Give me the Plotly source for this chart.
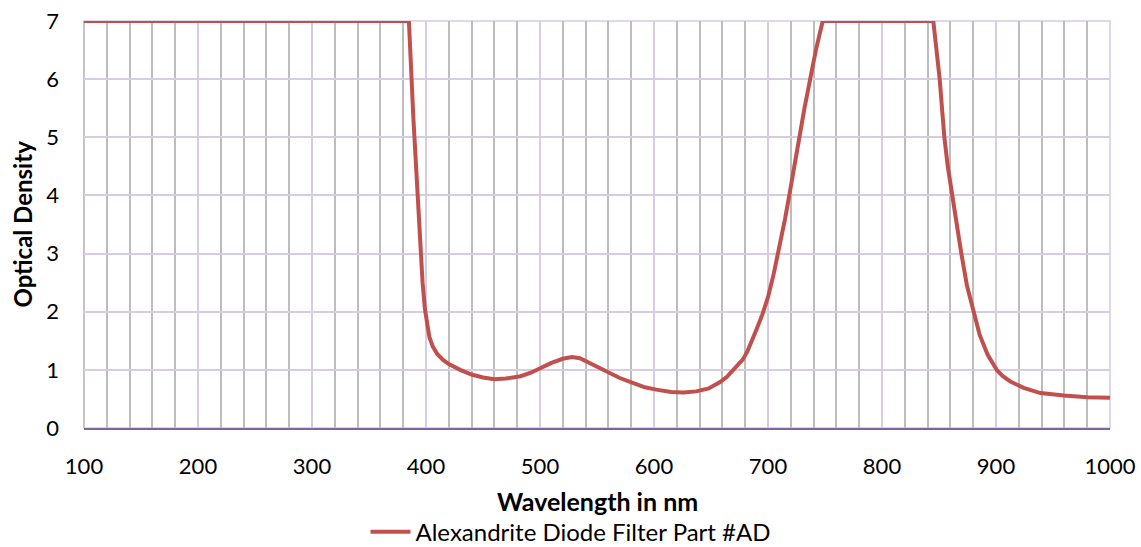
import plotly.graph_objects as go

wavelength = [100, 200, 300, 385, 389, 392, 395, 397, 399, 401, 403, 406, 410, 415, 420, 430,
              440, 450, 460, 470, 483, 492, 500, 510, 520, 528, 535, 545, 558, 570, 582,
              592, 602, 615, 626, 637, 648, 658, 664, 670, 675, 678, 682, 686, 690, 695,
              700, 705, 710, 715, 719, 723, 727.5, 732, 737, 742, 748, 800, 845, 850.6,
              854.7, 857.7, 861.5, 865.5, 869.6, 874.5, 880, 885.7, 892.7, 897, 901, 906,
              912.6, 924.3, 939, 959.4, 980, 1000]
optical_density = [7, 7, 7, 7, 5.3, 4.2, 3.15, 2.5, 2.05, 1.75, 1.56, 1.4, 1.27, 1.17, 1.1, 1.0,
                   0.92, 0.87, 0.84, 0.85, 0.89, 0.95, 1.03, 1.12, 1.19, 1.22, 1.2, 1.1, 0.97, 0.86, 0.77,
                   0.7, 0.66, 0.62, 0.61, 0.63, 0.68, 0.79, 0.88, 1.0, 1.1, 1.18, 1.32, 1.5, 1.7, 1.95,
                   2.25, 2.65, 3.1, 3.6, 4.04, 4.5, 5.0, 5.5, 6.0, 6.5, 7, 7, 7, 6.0,
                   5.0, 4.5, 4.0, 3.5, 3.0, 2.45, 2.0, 1.6, 1.26, 1.11, 0.99, 0.89,
                   0.8, 0.69, 0.6, 0.56, 0.53, 0.52]
series_name = "Alexandrite Diode Filter Part #AD"
x_title = "Wavelength in nm"
y_title = "Optical Density"

FONT = "Lato, 'Open Sans', sans-serif"

fig = go.Figure()
fig.add_trace(go.Scatter(
    x=wavelength, y=optical_density, mode="lines", name=series_name,
    line=dict(color="#c0504d", width=4), line_shape="linear",
))

fig.update_layout(
    width=1141, height=547,
    margin=dict(l=84, r=31, t=21, b=119, autoexpand=False),
    plot_bgcolor="white", paper_bgcolor="white",
    font=dict(family=FONT, size=22, color="black"),
    showlegend=True,
    legend=dict(orientation="h", xref="container", x=0.5, xanchor="center",
                yref="container", y=0.027, yanchor="middle",
                font=dict(size=24), itemwidth=40),
)
fig.update_xaxes(
    range=[100, 1000], dtick=100, tick0=100, automargin=False,
    showgrid=True, gridcolor="#d6cce4", gridwidth=1.5,
    minor=dict(dtick=20, tick0=100, showgrid=True, gridcolor="#bdbdbd", gridwidth=1.5),
    showline=True, linecolor="#8064a2", linewidth=2,
    zeroline=False, ticks="", ticklabelstandoff=18,
)
fig.update_yaxes(
    range=[0, 7], dtick=1, automargin=False,
    showgrid=True, gridcolor="#d6cce4", gridwidth=1.5,
    showline=False, zeroline=False, ticks="", ticklabelstandoff=24,
)
fig.add_annotation(text=f"<b>{x_title}</b>", xref="paper", yref="paper",
                   x=0.5, y=-0.179, xanchor="center", yanchor="middle",
                   showarrow=False, font=dict(size=25))
fig.add_annotation(text=f"<b>{y_title}</b>", xref="paper", yref="paper",
                   x=-0.0604, y=0.5, xanchor="center", yanchor="middle",
                   textangle=-90, showarrow=False, font=dict(size=24))
fig.add_shape(type="rect", xref="paper", yref="paper", x0=0, x1=1, y0=0, y1=1,
              line=dict(color="#d6cce4", width=1.5), layer="below")
fig.add_shape(type="line", xref="paper", yref="paper", x0=0, x1=0, y0=0, y1=1,
              line=dict(color="#bdbdbd", width=1.5), layer="below")

fig.write_html("out.html", config={"displayModeBar": False},
               post_script="document.body.style.margin='0px';document.body.style.overflow='hidden';")
